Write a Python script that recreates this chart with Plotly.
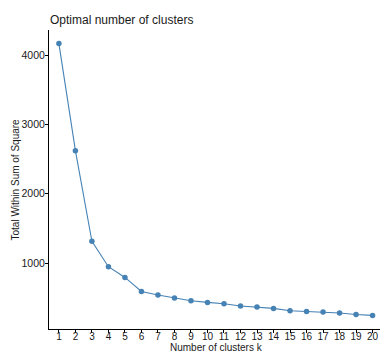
import plotly.graph_objects as go

# Elbow curve: total within-cluster sum of squares for k = 1..20
k_values = list(range(1, 21))
wss = [4165, 2620, 1312, 947, 792, 590, 538, 495, 456, 432,
       413, 380, 365, 345, 312, 302, 293, 278, 258, 244]

FONT = "Liberation Sans, Arial, Helvetica, sans-serif"
TEXT = "#1a1a1a"
LINE_COLOR = "#4682B4"

PLOT_L, PLOT_R, PLOT_T, PLOT_B = 49, 380, 30, 329
PW, PH = PLOT_R - PLOT_L, PLOT_B - PLOT_T

fig = go.Figure(
    go.Scatter(
        x=k_values,
        y=wss,
        mode="lines+markers",
        line=dict(color=LINE_COLOR, width=1.1),
        marker=dict(color=LINE_COLOR, size=5.5),
        hoverinfo="skip",
    )
)

fig.update_layout(
    width=380,
    height=353,
    margin=dict(l=PLOT_L, r=380 - PLOT_R, t=PLOT_T, b=353 - PLOT_B, autoexpand=False),
    paper_bgcolor="white",
    plot_bgcolor="white",
    showlegend=False,
    font=dict(family=FONT, color=TEXT),
    title=dict(
        text="Optimal number of clusters",
        x=50 / 380,
        xanchor="left",
        y=1 - 19.5 / 353,
        yanchor="middle",
        font=dict(size=12, color=TEXT, family=FONT),
    ),
    annotations=[
        dict(
            text="Number of clusters k",
            xref="paper", yref="paper",
            x=(216 - PLOT_L) / PW, y=-(347.5 - PLOT_B) / PH,
            xanchor="center", yanchor="middle",
            showarrow=False,
            font=dict(size=10, color=TEXT, family=FONT),
        ),
        dict(
            text="Total Within Sum of Square",
            xref="paper", yref="paper",
            x=-(PLOT_L - 15) / PW, y=0.5,
            xanchor="center", yanchor="middle",
            textangle=-90,
            showarrow=False,
            font=dict(size=10, color=TEXT, family=FONT),
        ),
    ],
)

fig.update_xaxes(
    range=[0.4, 20.45],
    tickmode="array",
    tickvals=k_values,
    ticktext=[str(k) for k in k_values],
    showgrid=False,
    zeroline=False,
    showline=True,
    linecolor="black",
    linewidth=1,
    ticks="outside",
    ticklen=3,
    tickcolor="black",
    tickfont=dict(size=10, color=TEXT),
    ticklabelstandoff=-5,
    automargin=False,
)

fig.update_yaxes(
    range=[48, 4361],
    tickvals=[1000, 2000, 3000, 4000],
    showgrid=False,
    zeroline=False,
    showline=True,
    linecolor="black",
    linewidth=1,
    ticks="outside",
    ticklen=3,
    tickcolor="black",
    tickfont=dict(size=10.5, color=TEXT),
    ticklabelstandoff=-2,
    automargin=False,
)

fig.write_html("out.html")
